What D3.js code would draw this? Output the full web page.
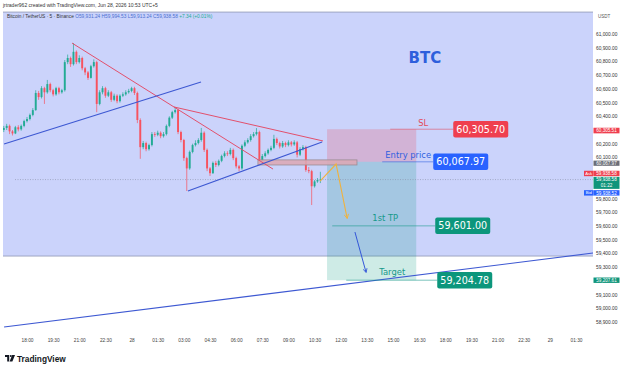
<!DOCTYPE html>
<html>
<head>
<meta charset="utf-8">
<script src="https://cdn.jsdelivr.net/npm/d3@7"></script>
<style>
  body { margin: 0; background: #fff; }
  svg { display: block; font-family: "Liberation Sans", Arial, sans-serif; }
</style>
</head>
<body>
<svg id="chart" width="625" height="370"></svg>
<script>
// ---- data ----
const candleStart = "27 16:40";   // first bar, 10 min bars
const candleMinutes = 10;
const firstOpen = 60300;
const closes = [60315,60330,60290,60275,60320,60305,60330,60365,60380,60410,
  60445,60570,60540,60605,60575,60635,60590,60560,60605,60575,
  60590,60795,60825,60780,60870,60795,60825,60750,60720,60680,
  60765,60795,60490,60575,60605,60550,60575,60520,60550,60510,
  60550,60560,60575,60585,60605,60570,60373,60175,60205,60160,
  60190,60270,60265,60280,60255,60270,60330,60390,60430,60445,
  60285,60227,60095,60020,60140,60190,60205,60227,60280,60155,
  60020,59985,60060,60045,60075,60110,60130,60125,60155,60095,
  60035,60020,60185,60210,60227,60255,60270,60285,60080,60110,
  60130,60155,60170,60235,60205,60180,60205,60190,60210,60195,
  60210,60120,60160,60175,60008,60000,59890,59925,59935,59939];
const highs = [60330,60345,60340,60300,60330,60335,60340,60375,60395,60420,
  60460,60590,60585,60620,60615,60665,60645,60600,60615,60615,
  60600,60810,60850,60835,60934,60880,60845,60835,60760,60730,
  60775,60815,60805,60590,60620,60615,60590,60585,60565,60560,
  60560,60575,60590,60600,60615,60615,60580,60385,60220,60215,
  60200,60285,60285,60295,60290,60285,60340,60400,60440,60468,
  60455,60295,60235,60105,60150,60200,60225,60240,60315,60290,
  60165,60030,60070,60075,60085,60120,60145,60145,60170,60165,
  60105,60045,60195,60225,60240,60270,60285,60314,60295,60125,
  60145,60165,60185,60265,60245,60215,60220,60215,60225,60220,
  60225,60220,60175,60190,60185,60030,60010,59935,59950,59995];
const lows = [60285,60300,60270,60260,60270,60290,60295,60320,60355,60370,
  60400,60440,60520,60530,60490,60565,60575,60545,60550,60560,
  60565,60580,60780,60760,60770,60780,60785,60735,60700,60665,
  60675,60755,60430,60480,60560,60535,60540,60505,60510,60495,
  60500,60540,60550,60565,60575,60555,60350,60090,60160,60145,
  60150,60180,60250,60255,60240,60245,60260,60320,60380,60420,
  60270,60210,60075,59855,60010,60130,60180,60195,60215,60140,
  60000,59965,59980,60030,60035,60065,60100,60110,60115,60080,
  60020,59998,60010,60175,60200,60215,60245,60260,60045,60070,
  60100,60120,60145,60160,60190,60165,60170,60175,60180,60180,
  60185,60100,60110,60150,59995,59985,59753,59880,59915,59913];

const timeTicks = ["27 18:00","27 19:30","27 21:00","27 22:30","28 00:00","28 01:30",
  "28 03:00","28 04:30","28 06:00","28 07:30","28 09:00","28 10:30","28 12:00",
  "28 13:30","28 15:00","28 16:30","28 18:00","28 19:30","28 21:00","28 22:30",
  "29 00:00","29 01:30"];
const priceTicks = [61000,60900,60800,60700,60600,60500,60400,60200,60100,
  59800,59700,59600,59500,59400,59300,59100,59000,58900];

// drawings: [time, price] pairs
const redLines = [
  [["27 20:35", 60934], ["28 08:07", 60015]],
  [["28 02:26", 60468], ["28 10:59", 60220]]
];
const blueLines = [
  [["27 16:41", 60198], ["28 03:59", 60650]],
  [["28 03:14", 59855], ["28 10:56", 60212]],
  [["27 16:41", 58863], ["29 02:29", 59403]]
];
const zoneSpan = ["28 07:15", "28 12:56"];
const zonePrices = [60082, 60045];
const bgSpan = ["27 16:00", "29 03:00"];
const bgPrices = [61160, 59381];
const yellowPath = [["28 10:49", 59928], ["28 11:44", 60052], ["28 12:22", 59658]];
const bluePath = [["28 12:49", 59556], ["28 13:27", 59264]];

const positionSpan = ["28 11:13", "28 16:20"];
const levelNames = ["SL", "Entry price", "1st TP", "Target"];
const levelPrices = [60305.70, 60067.97, 59601.00, 59204.78];
const levelLabels = ["60,305.70", "60,067.97", "59,601.00", "59,204.78"];

const axisTags = ["60,305.51", "60,067.97", "59,938.58", "59,938.58", "59,938.52", "59,207.61"];
const axisTagPrices = [60305.51, 60067.97, 59938.58, 59938.58, 59938.52, 59207.61];
const lastPrice = 59938.58;

const header1 = "jrtrader962 created with TradingView.com, Jun 28, 2026 10:53 UTC+5";
const header2 = ["Bitcoin / TetherUS \u00b7 5 \u00b7 Binance", "O59,931.24 H59,994.53 L59,913.24 C59,938.58", "+7.34 (+0.01%)"];

// ---- setup ----
const parseT = d3.timeParse("%Y-%m-%d %H:%M");
const T = s => parseT("2026-06-" + s);

const svg = d3.select("#chart");
const plotLeft = 3, plotRight = 593, plotTop = 10, plotBottom = 336;

const x = d3.scaleTime()
  .domain([T("27 18:00"), T("29 01:30")])
  .range([27, 576]);
const y = d3.scaleLinear()
  .domain([58900, 61000])
  .range([322, 34]);

const up = "#22ab94", down = "#f7525f";

svg.append("defs").append("clipPath").attr("id", "plot")
  .append("rect").attr("x", plotLeft).attr("y", plotTop)
  .attr("width", plotRight - plotLeft).attr("height", plotBottom - plotTop);

const defs = svg.select("defs");
function marker(id, color) {
  defs.append("marker").attr("id", id)
    .attr("viewBox", "0 0 10 10").attr("refX", 8).attr("refY", 5)
    .attr("markerWidth", 5).attr("markerHeight", 5).attr("orient", "auto")
    .append("path").attr("d", "M1,1 L9,5 L1,9").attr("fill", "none")
    .attr("stroke", color).attr("stroke-width", 1.6);
}
marker("arrY", "#f0b23e");
marker("arrB", "#3356d8");

const g = svg.append("g").attr("clip-path", "url(#plot)");

// big lavender rectangle
g.append("rect")
  .attr("x", x(T(bgSpan[0]))).attr("y", y(bgPrices[0]))
  .attr("width", x(T(bgSpan[1])) - x(T(bgSpan[0])))
  .attr("height", y(bgPrices[1]) - y(bgPrices[0]))
  .attr("fill", "#cbd3fb").attr("stroke", "#8f96b4").attr("stroke-width", 0.8);

// header
svg.append("text").attr("x", 3).attr("y", 7).attr("font-size", 5).attr("fill", "#333")
  .text(header1);
const h2 = svg.append("text").attr("x", 7).attr("y", 18).attr("font-size", 4.8);
h2.append("tspan").attr("fill", "#333").text(header2[0] + "  ");
h2.append("tspan").attr("fill", "#4a6fd0").text(header2[1] + " ");
h2.append("tspan").attr("fill", "#22ab94").text(header2[2]);

// position tool regions
const px0 = x(T(positionSpan[0])), px1 = x(T(positionSpan[1]));
g.append("rect").attr("x", px0).attr("width", px1 - px0)
  .attr("y", y(levelPrices[0])).attr("height", y(levelPrices[1]) - y(levelPrices[0]))
  .attr("fill", "rgba(242,54,69,0.2)");
g.append("rect").attr("x", px0).attr("width", px1 - px0)
  .attr("y", y(levelPrices[1])).attr("height", y(levelPrices[3]) - y(levelPrices[1]))
  .attr("fill", "rgba(8,153,129,0.2)");

// current price line
g.append("line").attr("x1", 15).attr("x2", plotRight)
  .attr("y1", y(lastPrice)).attr("y2", y(lastPrice))
  .attr("stroke", "#8a90a8").attr("stroke-width", 0.6).attr("stroke-dasharray", "1,1.5");

// candles
const t0 = T(candleStart);
const candles = closes.map((c, i) => ({
  t: d3.timeMinute.offset(t0, i * candleMinutes),
  o: i === 0 ? firstOpen : closes[i - 1],
  h: highs[i], l: lows[i], c: c
}));
const bw = 1.9;
const cg = g.append("g");
cg.selectAll("line").data(candles).join("line")
  .attr("x1", d => x(d.t)).attr("x2", d => x(d.t))
  .attr("y1", d => y(d.h)).attr("y2", d => y(d.l))
  .attr("stroke", d => d.c >= d.o ? up : down).attr("stroke-width", 0.7);
cg.selectAll("rect").data(candles).join("rect")
  .attr("x", d => x(d.t) - bw / 2).attr("width", bw)
  .attr("y", d => y(Math.max(d.o, d.c)))
  .attr("height", d => Math.max(0.8, Math.abs(y(d.o) - y(d.c))))
  .attr("fill", d => d.c >= d.o ? up : down);

// entry zone
g.append("rect")
  .attr("x", x(T(zoneSpan[0]))).attr("width", x(T(zoneSpan[1])) - x(T(zoneSpan[0])))
  .attr("y", y(zonePrices[0])).attr("height", y(zonePrices[1]) - y(zonePrices[0]))
  .attr("fill", "#dca8b6").attr("fill-opacity", 0.9)
  .attr("stroke", "#9a8d94").attr("stroke-width", 0.8);

// trend lines
const line = d3.line().x(d => x(T(d[0]))).y(d => y(d[1]));
g.selectAll("path.red").data(redLines).join("path").attr("class", "red")
  .attr("d", line).attr("fill", "none").attr("stroke", "#e2506c").attr("stroke-width", 1);
g.selectAll("path.blue").data(blueLines).join("path").attr("class", "blue")
  .attr("d", line).attr("fill", "none").attr("stroke", "#3d58d2").attr("stroke-width", 1.1);

// arrows
g.append("path").datum(yellowPath).attr("d", line).attr("fill", "none")
  .attr("stroke", "#f0b23e").attr("stroke-width", 1.1).attr("marker-end", "url(#arrY)");
g.append("path").datum(bluePath).attr("d", line).attr("fill", "none")
  .attr("stroke", "#3356d8").attr("stroke-width", 1).attr("marker-end", "url(#arrB)");

// level annotations
const textColors = ["#e34b5b", "#2f5fe0", "#16998a", "#16998a"];
const boxColors = ["#ef3f4f", "#2962ff", "#0c967c", "#0c967c"];
const textDx = [7, -8, -31, -24];
const textDy = [-3, -4, -5, -5];
const lineDx = [-26, -34, -84, -70];
const boxDx = [37, 17, 19, 21];
const boxW = 55, boxH = 16.5;

levelPrices.forEach((p, i) => {
  const yy = y(p);
  svg.append("line").attr("x1", px1 + lineDx[i]).attr("x2", px1 + boxDx[i])
    .attr("y1", yy).attr("y2", yy).attr("stroke", textColors[i]).attr("stroke-width", 0.7)
    .attr("opacity", 0.8);
  svg.append("text").attr("x", px1 + textDx[i]).attr("y", yy + textDy[i])
    .attr("text-anchor", "middle").attr("font-family", "DejaVu Sans")
    .attr("font-size", 8.4).attr("fill", textColors[i]).text(levelNames[i]);
  svg.append("rect").attr("x", px1 + boxDx[i]).attr("y", yy - boxH / 2)
    .attr("width", boxW).attr("height", boxH).attr("rx", 2).attr("fill", boxColors[i]);
  svg.append("text").attr("x", px1 + boxDx[i] + boxW / 2).attr("y", yy + 3.6)
    .attr("text-anchor", "middle").attr("font-family", "DejaVu Sans")
    .attr("font-size", 9.6).attr("fill", "#fff").text(levelLabels[i]);
});

// BTC label
svg.append("text").attr("x", x(T("28 16:50"))).attr("y", y(60790))
  .attr("text-anchor", "middle").attr("font-family", "DejaVu Sans").attr("font-weight", "bold")
  .attr("font-size", 15).attr("fill", "#2e5fdc").text("BTC");

// right price axis
const ya = svg.append("g").attr("transform", `translate(596,0)`)
  .call(d3.axisRight(y).tickValues(priceTicks).tickFormat(d3.format(",.2f")).tickSize(0).tickPadding(0));
ya.select(".domain").remove();
ya.selectAll("text").attr("font-size", 4.8).attr("fill", "#333").attr("font-family", "Liberation Sans");
svg.append("text").attr("x", 598).attr("y", 18).attr("font-size", 4.5).attr("fill", "#555").text("USDT");

// axis tags (stacked to avoid overlap)
const tagColors = ["#ef3f4f", "#6b6e78", "#ef3f4f", "#10957b", "#2962ff", "#10957b"];
const tagDy = [1.3, 1.4, -6.1, 3.3, 13.3, 0.4];
const tagH = [5.6, 5.2, 5.4, 12, 5.4, 5.4];
axisTags.forEach((s, i) => {
  const cy = y(axisTagPrices[i]) + tagDy[i];
  svg.append("rect").attr("x", 593.5).attr("y", cy - tagH[i] / 2).attr("width", 26).attr("height", tagH[i])
    .attr("fill", tagColors[i]);
  const ty = i === 3 ? cy - 1.5 : cy + 1.7;
  svg.append("text").attr("x", 606.5).attr("y", ty).attr("text-anchor", "middle")
    .attr("font-size", 4.6).attr("fill", "#fff").text(s);
  if (i === 3) {
    svg.append("text").attr("x", 606.5).attr("y", cy + 4).attr("text-anchor", "middle")
      .attr("font-size", 4.6).attr("fill", "#fff").text("01:22");
  }
});
[["Ask", 2, "#ef3f4f"], ["Bid", 4, "#2962ff"]].forEach(([lab, i, col]) => {
  const cy = y(axisTagPrices[i]) + tagDy[i];
  svg.append("rect").attr("x", 584).attr("y", cy - tagH[i] / 2).attr("width", 9.5).attr("height", tagH[i])
    .attr("fill", col);
  svg.append("text").attr("x", 588.7).attr("y", cy + 1.6).attr("text-anchor", "middle")
    .attr("font-size", 4.2).attr("fill", "#fff").text(lab);
});

// time axis
const xa = svg.append("g").attr("transform", "translate(0,336)")
  .call(d3.axisBottom(x).tickValues(timeTicks.map(T)).tickSize(0).tickPadding(3)
    .tickFormat(d => d.getHours() === 0 && d.getMinutes() === 0 ? String(d.getDate()) : d3.timeFormat("%H:%M")(d)));
xa.select(".domain").remove();
xa.selectAll("text").attr("font-size", 4.8).attr("fill", "#444").attr("font-family", "Liberation Sans");

// TradingView logo
const logo = svg.append("g").attr("transform", "translate(5,355)").attr("fill", "#131722");
logo.append("path").attr("d", "M0,0 H4.2 V6.5 H2.2 V2 H0 Z");
logo.append("circle").attr("cx", 5.8).attr("cy", 1).attr("r", 1);
logo.append("path").attr("d", "M7.2,0 H10 L7.4,6.5 H4.6 Z");
svg.append("text").attr("x", 17).attr("y", 361.5).attr("font-size", 8.3).attr("font-weight", "bold")
  .attr("fill", "#131722").text("TradingView");
</script>
</body>
</html>
